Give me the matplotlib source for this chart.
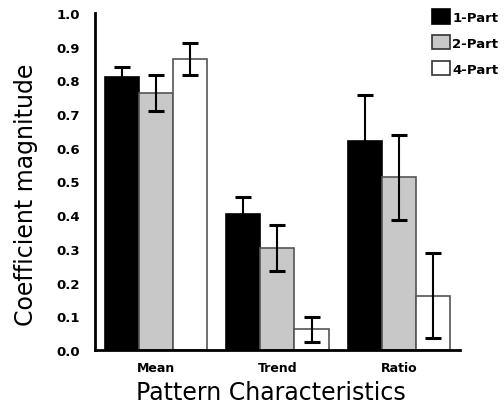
import matplotlib
matplotlib.use("Agg")
import matplotlib.pyplot as plt
import numpy as np
from matplotlib.patches import Patch

categories = ["Mean", "Trend", "Ratio"]
series = ["1-Part", "2-Part", "4-Part"]
values_1 = [0.81, 0.404, 0.62]
values_2 = [0.763, 0.302, 0.512]
values_4 = [0.864, 0.061, 0.161]
err_1 = [0.031, 0.05, 0.136]
err_2 = [0.053, 0.068, 0.126]
err_4 = [0.048, 0.037, 0.126]

colors = ["#000000", "#c8c8c8", "#ffffff"]
edges = ["#000000", "#555555", "#555555"]

fig = plt.figure(figsize=(5.04, 4.10), dpi=100)
ax = fig.add_axes([0.1885, 0.1439, 0.724, 0.822])

x = np.arange(len(categories))
w = 0.28
vals = [values_1, values_2, values_4]
errs = [err_1, err_2, err_4]
for i in range(3):
    ax.bar(x + (i - 1) * w, vals[i], w, color=colors[i], edgecolor=edges[i], linewidth=1.2,
           yerr=errs[i], error_kw=dict(ecolor="black", elinewidth=1.5, capsize=6, capthick=2.2),
           label=series[i], zorder=2)

ax.set_xlim(-0.5, 2.5)
ax.set_ylim(0, 1.0)
ax.set_yticks(np.arange(0, 1.01, 0.1))
ax.set_yticklabels([f"{v:.1f}" for v in np.arange(0, 1.01, 0.1)], fontweight="bold", fontsize=9.5)
ax.set_xticks(x)
ax.set_xticklabels(categories, fontweight="bold", fontsize=9)
ax.tick_params(axis="both", length=0)
ax.tick_params(axis="y", pad=11)
ax.tick_params(axis="x", pad=8)
for s in ["top", "right"]:
    ax.spines[s].set_visible(False)
for s in ["left", "bottom"]:
    ax.spines[s].set_linewidth(2)
ax.set_ylabel("Coefficient magnitude", fontsize=17, va="center")
ax.yaxis.set_label_coords(-0.19, 0.463)
ax.set_xlabel("Pattern Characteristics", fontsize=17, va="center")
ax.xaxis.set_label_coords(0.482, -0.125)

handles = [Patch(facecolor=colors[i], edgecolor="#333333" if i else "black", linewidth=1.2) for i in range(3)]
fig.legend(handles, series, loc="upper left", bbox_to_anchor=(0.857, 0.975), frameon=False,
           prop=dict(weight="bold", size=9.5), handlelength=1.35, handleheight=1.3,
           handletextpad=0.2, labelspacing=0.85, borderpad=0, borderaxespad=0)

fig.savefig("out.png", dpi=100)
